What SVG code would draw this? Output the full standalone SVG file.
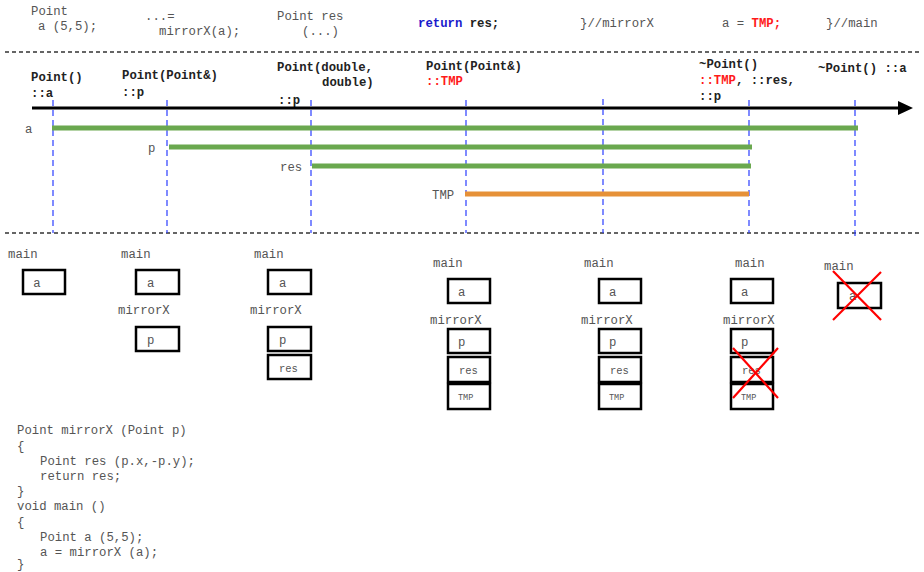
<svg xmlns="http://www.w3.org/2000/svg" width="924" height="572" viewBox="0 0 924 572">
<style>
text{font-family:"Liberation Mono","DejaVu Sans Mono",monospace;font-size:12.3px;fill:#555}
.b{font-weight:bold;fill:#222}
.r{fill:#ff1a1a;font-weight:bold}
.bl{fill:#1a1acc;font-weight:bold}
.sep{stroke:#333;stroke-width:1.3;stroke-dasharray:4,3;fill:none}
.life{stroke:#2a3cff;stroke-width:1.2;stroke-dasharray:6,4;fill:none}
.g{stroke:#6aa84f;stroke-width:5}
.o{stroke:#e69138;stroke-width:5}
.box{fill:#fff;stroke:#000;stroke-width:2.5}
.x{stroke:#ff0000;stroke-width:2.2}
.c{text-anchor:middle}
.sm{font-size:10.5px}
.xs{font-size:8.5px}
</style>
<defs>
<marker id="ah" viewBox="0 0 15 14" refX="0" refY="7" markerWidth="15" markerHeight="14" markerUnits="userSpaceOnUse" orient="auto">
<path d="M0,0 L15,7 L0,14 Z" fill="#000"/>
</marker>
</defs>

<g id="header">
<text x="31" y="15">Point</text>
<text x="38" y="30">a (5,5);</text>
<text x="145" y="20">...=</text>
<text x="159" y="35">mirrorX(a);</text>
<text x="277" y="20">Point res</text>
<text x="302" y="35">(...)</text>
<text x="418" y="27"><tspan class="bl">return</tspan><tspan class="b"> res;</tspan></text>
<text x="580" y="27">}//mirrorX</text>
<text x="722" y="27">a = <tspan class="r">TMP;</tspan></text>
<text x="826" y="27">}//main</text>
</g>

<g id="separators">
<line class="sep" x1="5" y1="52" x2="920" y2="52"/>
<line class="sep" x1="5" y1="233" x2="920" y2="233"/>
</g>

<g id="event-labels">
<text class="b" x="31" y="81">Point()</text>
<text class="b" x="31" y="97">::a</text>
<text class="b" x="122" y="79">Point(Point&amp;)</text>
<text class="b" x="122" y="96">::p</text>
<text class="b" x="277" y="71">Point(double,</text>
<text class="b" x="322" y="86">double)</text>
<text class="b" x="278" y="104">::p</text>
<text class="b" x="426" y="70">Point(Point&amp;)</text>
<text class="r" x="426" y="85">::TMP</text>
<text class="b" x="699" y="68">~Point()</text>
<text class="b" x="699" y="84"><tspan class="r">::TMP</tspan>, ::res,</text>
<text class="b" x="699" y="100">::p</text>
<text class="b" x="818" y="72">~Point() ::a</text>
</g>

<g id="connectors">
<line x1="32" y1="108" x2="898" y2="108" stroke="#000" stroke-width="3" marker-end="url(#ah)"/>
<line class="life" x1="53" y1="100" x2="53" y2="233"/>
<line class="life" x1="167" y1="100" x2="167" y2="233"/>
<line class="life" x1="311" y1="100" x2="311" y2="233"/>
<line class="life" x1="466" y1="100" x2="466" y2="233"/>
<line class="life" x1="603" y1="99" x2="603" y2="233"/>
<line class="life" x1="749" y1="100" x2="749" y2="233"/>
<line class="life" x1="855" y1="100" x2="855" y2="240"/>
</g>

<g id="lifetimes">
<line class="g" x1="52" y1="128" x2="858" y2="128"/>
<line class="g" x1="169" y1="147" x2="752" y2="147"/>
<line class="g" x1="312" y1="166" x2="751" y2="166"/>
<line class="o" x1="465" y1="194" x2="749" y2="194"/>
<text x="25" y="133">a</text>
<text x="148" y="152">p</text>
<text x="280" y="171">res</text>
<text x="432" y="199">TMP</text>
</g>

<g id="stack1">
<text x="8" y="258">main</text>
<rect class="box" x="23" y="270" width="42" height="24"/><text class="c" x="37" y="287">a</text>
</g>

<g id="stack2">
<text x="121" y="258">main</text>
<rect class="box" x="136" y="270" width="43" height="24"/><text x="147" y="287">a</text>
<text x="118" y="314">mirrorX</text>
<rect class="box" x="136" y="327" width="43" height="24"/><text x="147" y="344">p</text>
</g>

<g id="stack3">
<text x="254" y="258">main</text>
<rect class="box" x="268" y="270" width="43" height="24"/><text x="279" y="287">a</text>
<text x="250" y="314">mirrorX</text>
<rect class="box" x="268" y="327" width="43" height="24"/><text x="279" y="344">p</text>
<rect class="box" x="268" y="355" width="43" height="24"/><text class="sm" x="279" y="372">res</text>
</g>

<g id="stack4">
<text x="433" y="267">main</text>
<rect class="box" x="448" y="279" width="42" height="24"/><text x="458" y="296">a</text>
<text x="430" y="324">mirrorX</text>
<rect class="box" x="448" y="329" width="42" height="24"/><text x="458" y="346">p</text>
<rect class="box" x="448" y="357" width="42" height="25"/><text class="sm" x="459" y="374">res</text>
<rect class="box" x="448" y="384" width="42" height="25"/><text class="xs" x="458" y="400">TMP</text>
</g>

<g id="stack5">
<text x="584" y="267">main</text>
<rect class="box" x="599" y="279" width="42" height="24"/><text x="609" y="296">a</text>
<text x="581" y="324">mirrorX</text>
<rect class="box" x="599" y="329" width="42" height="24"/><text x="609" y="346">p</text>
<rect class="box" x="599" y="357" width="42" height="25"/><text class="sm" x="610" y="374">res</text>
<rect class="box" x="599" y="384" width="42" height="25"/><text class="xs" x="609" y="400">TMP</text>
</g>

<g id="stack6">
<text x="735" y="267">main</text>
<rect class="box" x="731" y="279" width="42" height="24"/><text x="741" y="296">a</text>
<text x="723" y="324">mirrorX</text>
<rect class="box" x="731" y="329" width="42" height="24"/><text x="741" y="346">p</text>
<rect class="box" x="731" y="357" width="42" height="25"/><text class="sm" x="742" y="374">res</text>
<rect class="box" x="731" y="384" width="42" height="25"/><text class="xs" x="741" y="400">TMP</text>
<line class="x" x1="733" y1="348" x2="778" y2="398"/>
<line class="x" x1="778" y1="348" x2="733" y2="398"/>
</g>

<g id="stack7">
<text x="824" y="270">main</text>
<rect class="box" x="838" y="283" width="43" height="25"/><text x="849" y="300">a</text>
<line class="x" x1="833" y1="271" x2="881" y2="320"/>
<line class="x" x1="881" y1="272" x2="833" y2="320"/>
</g>

<g id="code">
<text x="17" y="434">Point mirrorX (Point p)</text>
<text x="17" y="450">{</text>
<text x="40" y="465">Point res (p.x,-p.y);</text>
<text x="40" y="480">return res;</text>
<text x="17" y="495">}</text>
<text x="17" y="510">void main ()</text>
<text x="17" y="526">{</text>
<text x="40" y="541">Point a (5,5);</text>
<text x="40" y="556">a = mirrorX (a);</text>
<text x="17" y="568">}</text>
</g>
</svg>
